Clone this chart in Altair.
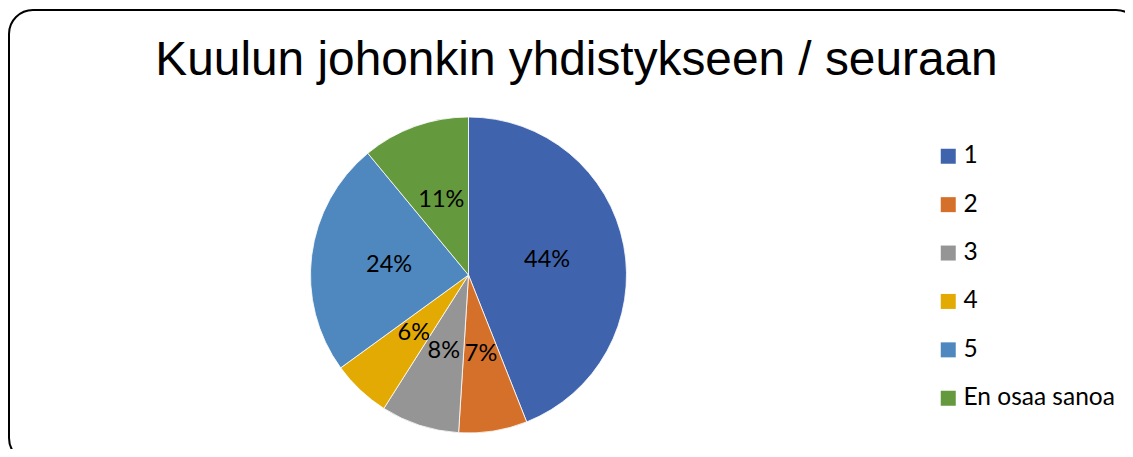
import altair as alt
import pandas as pd

categories = ["1", "2", "3", "4", "5", "En osaa sanoa"]
shares = [44, 7, 8, 6, 24, 11]
colors = ["#3F64AD", "#D5702B", "#959595", "#E3AA04", "#4F88BF", "#64993D"]
title_text = "Kuulun johonkin yhdistykseen / seuraan"

df = pd.DataFrame({
    "category": categories,
    "share": shares,
    "order": list(range(len(categories))),
    "label": [f"{s}%" for s in shares],
})

# chart coordinates = page coordinates - 8 (page margin)
CX, CY, R = 460.5, 267, 158

base = alt.Chart(df).encode(
    theta=alt.Theta("share:Q", stack=True),
    order=alt.Order("order:Q"),
)

pie = base.mark_arc(outerRadius=R, stroke="white", strokeWidth=0.8).encode(
    x=alt.value(CX),
    y=alt.value(CY),
    color=alt.Color(
        "category:N",
        sort=categories,
        scale=alt.Scale(domain=categories, range=colors),
        legend=alt.Legend(
            title=None,
            orient="none",
            legendX=928,
            legendY=136,
            symbolType="square",
            symbolSize=225,
            symbolStrokeWidth=0,
            labelFont="Lato",
            labelFontSize=24.5,
            labelColor="#000000",
            labelOffset=3,
            rowPadding=23.4,
            padding=0,
        ),
    ),
)

labels = base.mark_text(radius=80, font="Lato", fontSize=23.5, color="#000000").encode(
    x=alt.value(CX),
    y=alt.value(CY),
    text="label:N",
)

one = pd.DataFrame({"t": [title_text]})

title = alt.Chart(one).mark_text(
    font="Liberation Sans", fontSize=47.8, color="#000000", baseline="alphabetic", align="center"
).encode(x=alt.value(568.5), y=alt.value(66.5), text="t:N")

frame = alt.Chart(one).mark_rect(
    filled=False, stroke="#000000", strokeWidth=2, cornerRadius=24
).encode(x=alt.value(1), x2=alt.value(1132), y=alt.value(2), y2=alt.value(454))

chart = alt.layer(frame, pie, labels, title).properties(
    width=1117,
    height=441,
    padding=0,
    autosize=alt.AutoSizeParams(type="none"),
).configure_view(stroke=None)

chart.save("out.html", embed_options={"renderer": "svg", "actions": False})
